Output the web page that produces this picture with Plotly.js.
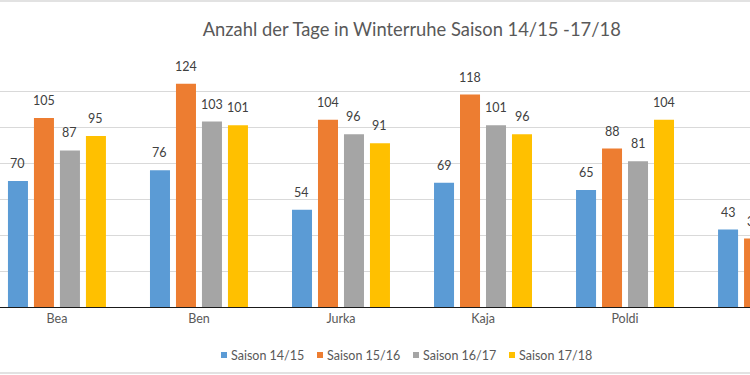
<!DOCTYPE html>
<html>
<head>
<meta charset="utf-8">
<script src="https://cdn.plot.ly/plotly-3.0.1.min.js"></script>
<style>html,body{margin:0;padding:0;background:#fff;}#chart{width:750px;height:375px;}</style>
</head>
<body>
<div id="chart"></div>
<script>
// Categories (the sixth group is cut off at the right edge of the picture)
const categories = ["Bea", "Ben", "Jurka", "Kaja", "Poldi", "…"];
const seriesNames = ["Saison 14/15", "Saison 15/16", "Saison 16/17", "Saison 17/18"];
const saison1415 = [70, 76, 54, 69, 65, 43];
const saison1516 = [105, 124, 104, 118, 88, 38];
const saison1617 = [87, 103, 96, 101, 81, null];
const saison1718 = [95, 101, 91, 96, 104, null];
const colors = ["#5B9BD5", "#ED7D31", "#A5A5A5", "#FFC000"];

const FONT = "Lato, 'Noto Sans', sans-serif";
const seriesValues = [saison1415, saison1516, saison1617, saison1718];

// layout geometry (pixels)
const W = 750, H = 375, T = 55, B = 68;
const plotH = H - T - B;
const X_RANGE = [-0.401, 4.880];
const catPx = W / (X_RANGE[1] - X_RANGE[0]);   // pixels per category
const slotPx = 26;                              // bar + in-group gap
const legendTextPx = [229, 325, 421, 517];
const legendYPx = 355;

const traces = seriesValues.map((vals, i) => ({
  type: "bar",
  name: seriesNames[i],
  x: categories,
  y: vals,
  marker: {color: colors[i]},
  hoverinfo: "none",
  showlegend: false
}));

const annotations = [];
seriesValues.forEach((vals, i) => {
  vals.forEach((v, j) => {
    if (v == null) return;
    const pos = j + (i - 1.5) * slotPx / catPx;
    const anchor = Math.min(pos, X_RANGE[1] - 0.01);
    annotations.push({
      x: anchor, y: v, xref: "x", yref: "y",
      text: String(v), showarrow: false,
      xanchor: "center", yanchor: "bottom",
      xshift: (pos - anchor) * catPx, yshift: 8,
      font: {family: FONT, size: 12.5, color: "#404040"}
    });
  });
});

const shapes = [];
// chart border lines (top and bottom of the picture)
shapes.push({type: "line", xref: "paper", yref: "paper", x0: 0, x1: 1,
  y0: (H - B - 1) / plotH, y1: (H - B - 1) / plotH, line: {color: "#D9D9D9", width: 1.5}});
shapes.push({type: "line", xref: "paper", yref: "paper", x0: 0, x1: 1,
  y0: (H - B - 373) / plotH, y1: (H - B - 373) / plotH, line: {color: "#D9D9D9", width: 1.5}});

// custom legend: small square + label
const legY = (H - B - legendYPx) / plotH;
seriesNames.forEach((name, i) => {
  const tx = legendTextPx[i];
  shapes.push({type: "rect", xref: "paper", yref: "paper",
    x0: (tx - 8) / W, x1: (tx - 2) / W,
    y0: legY - 3 / plotH, y1: legY + 3 / plotH,
    fillcolor: colors[i], line: {width: 0}});
  annotations.push({x: tx / W, y: legY, xref: "paper", yref: "paper",
    text: name, showarrow: false, xanchor: "left", yanchor: "middle",
    font: {family: FONT, size: 12.5, color: "#595959"}});
});

const layout = {
  width: W, height: H,
  margin: {l: 0, r: 0, t: T, b: B, pad: 0},
  paper_bgcolor: "#fff", plot_bgcolor: "#fff",
  barmode: "group",
  bargap: 0.268,
  bargroupgap: 0.23,
  title: {
    text: "Anzahl der Tage in Winterruhe Saison 14/15 -17/18",
    font: {family: FONT, size: 18.35, color: "#595959"},
    x: 0.549, xref: "container", xanchor: "center",
    y: 0.92, yref: "container", yanchor: "middle"
  },
  xaxis: {
    type: "category",
    range: X_RANGE,
    showline: true, linecolor: "#1a1a1a", linewidth: 1,
    showgrid: false, ticks: "",
    tickfont: {family: FONT, size: 12.5, color: "#595959"},
    fixedrange: true
  },
  yaxis: {
    range: [0, 140],
    dtick: 20,
    showgrid: true, gridcolor: "#D9D9D9", gridwidth: 1,
    showticklabels: false, zeroline: false, showline: false,
    fixedrange: true
  },
  showlegend: false,
  annotations: annotations,
  shapes: shapes
};

Plotly.newPlot("chart", traces, layout, {displayModeBar: false, staticPlot: true});
</script>
</body>
</html>
